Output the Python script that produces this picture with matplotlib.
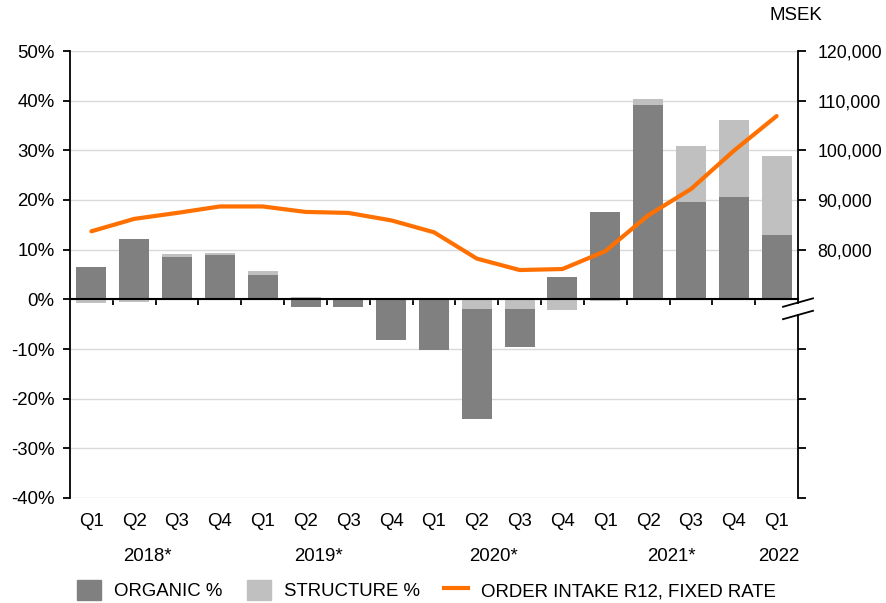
import matplotlib
matplotlib.use("Agg")
import matplotlib.pyplot as plt
import matplotlib.transforms as mtransforms
from matplotlib.patches import Patch
from matplotlib.lines import Line2D
from matplotlib.ticker import FixedLocator, FixedFormatter

plt.rcParams['font.family'] = ['Liberation Sans', 'DejaVu Sans']
plt.rcParams['font.size'] = 13.4

quarters = ["Q1", "Q2", "Q3", "Q4", "Q1", "Q2", "Q3", "Q4", "Q1", "Q2", "Q3", "Q4",
            "Q1", "Q2", "Q3", "Q4", "Q1"]
years = ["2018*", "2019*", "2020*", "2021*", "2022"]
year_pos = [1.3, 5.3, 9.4, 13.55, 16.05]
organic = [6.6, 12.2, 8.6, 8.85, 4.9, -1.5, -1.5, -8.1, -10.3, -22.0, -7.5, 4.4,
           17.6, 39.1, 19.5, 20.7, 13.0]
structure = [-0.8, -0.6, 0.5, 0.4, 0.8, 0.5, 0.0, 0.0, 0.0, -2.0, -2.0, -2.1,
             -0.3, 1.3, 11.3, 15.4, 15.9]
order_intake = [83700, 86200, 87400, 88700, 88700, 87600, 87400, 85900, 83500,
                78200, 75900, 76100, 79700, 86900, 92200, 99900, 106900]

C_ORG = "#808080"
C_STR = "#C0C0C0"
C_LINE = "#FF7000"

fig = plt.figure(figsize=(8.87, 6.03), dpi=100)
ax = fig.add_axes([70/887, 1-498/603, (798-70)/887, (498-51)/603])
n = len(quarters)
x = list(range(n))
w = 0.70

for i in range(n):
    o, s = organic[i], structure[i]
    pos_base = 0.0
    neg_base = 0.0
    if s < 0:
        ax.bar(i, s, w, bottom=neg_base, color=C_STR, zorder=2)
        neg_base += s
    if o >= 0:
        ax.bar(i, o, w, bottom=pos_base, color=C_ORG, zorder=2)
        pos_base += o
    else:
        ax.bar(i, o, w, bottom=neg_base, color=C_ORG, zorder=2)
        neg_base += o
    if s > 0:
        ax.bar(i, s, w, bottom=pos_base, color=C_STR, zorder=2)
        pos_base += s

ax.set_xlim(-0.5, n - 0.5)
ax.set_ylim(-40, 50)
ax.set_yticks(range(-40, 51, 10))
ax.set_yticklabels([f"{v}%" for v in range(-40, 51, 10)])
ax.yaxis.grid(True, color="#D9D9D9", linewidth=1.0, zorder=0)
ax.set_axisbelow(True)
ax.tick_params(axis='y', direction='out', length=5, width=1.3, pad=6, colors='black')

for sp in ['top', 'right']:
    ax.spines[sp].set_visible(False)
ax.spines['left'].set_linewidth(1.3)
ax.spines['bottom'].set_position(('data', 0))
ax.spines['bottom'].set_linewidth(1.5)
ax.spines['bottom'].set_zorder(3)
ax.set_xticks([i + 0.5 for i in range(n - 1)])
ax.set_xticklabels([])
ax.tick_params(axis='x', direction='out', length=4, width=1.3)

sec = ax.secondary_xaxis(0.0)
sec.set_xticks(x)
sec.set_xticklabels(quarters)
sec.tick_params(length=0, pad=11)
sec.spines['bottom'].set_visible(False)

trans = mtransforms.blended_transform_factory(ax.transData, ax.transAxes)
for yl, yp in zip(years, year_pos):
    ax.text(yp, -0.13, yl, transform=trans, ha='center', va='center')

ax2 = ax.twinx()
ax2.set_ylim(30000, 120000)
rt = [v for v in range(30000, 120001, 10000) if v != 70000]
ax2.yaxis.set_major_locator(FixedLocator(rt))
ax2.yaxis.set_major_formatter(FixedFormatter([f"{v:,}" if v >= 80000 else "" for v in rt]))
ax2.tick_params(axis='y', direction='out', length=6, width=1.3, pad=8, labelsize=12.8)
for sp in ['top', 'left', 'bottom', 'right']:
    ax2.spines[sp].set_visible(False)
ax2.plot(x, order_intake, color=C_LINE, linewidth=3.0, solid_capstyle='round', zorder=4)

rtrans = mtransforms.blended_transform_factory(ax.transAxes, ax.transData)
ax.plot([1, 1], [50, -0.7], transform=rtrans, color='black', lw=1.3, clip_on=False)
ax.plot([1, 1], [-3.2, -40], transform=rtrans, color='black', lw=1.3, clip_on=False)
dx = 15 / 728
ax.plot([1 - dx, 1 + dx], [-1.5, 0.2], transform=rtrans, color='black', lw=1.3, clip_on=False)
ax.plot([1 - dx, 1 + dx], [-4.0, -2.3], transform=rtrans, color='black', lw=1.3, clip_on=False)

fig.text(796/887, 1 - 15/603, "MSEK", ha='center', va='center')

handles = [Patch(color=C_ORG), Patch(color=C_STR), Line2D([0], [0], color=C_LINE, lw=3)]
labels = ["ORGANIC %", "STRUCTURE %", "ORDER INTAKE R12, FIXED RATE"]
fig.legend(handles, labels, loc='center left', bbox_to_anchor=(77/887, 1 - 590/603),
           ncol=3, frameon=False, handlelength=1.3, handleheight=1.3,
           handletextpad=0.7, columnspacing=1.3, borderpad=0, borderaxespad=0)

fig.savefig("out.png", dpi=100)
